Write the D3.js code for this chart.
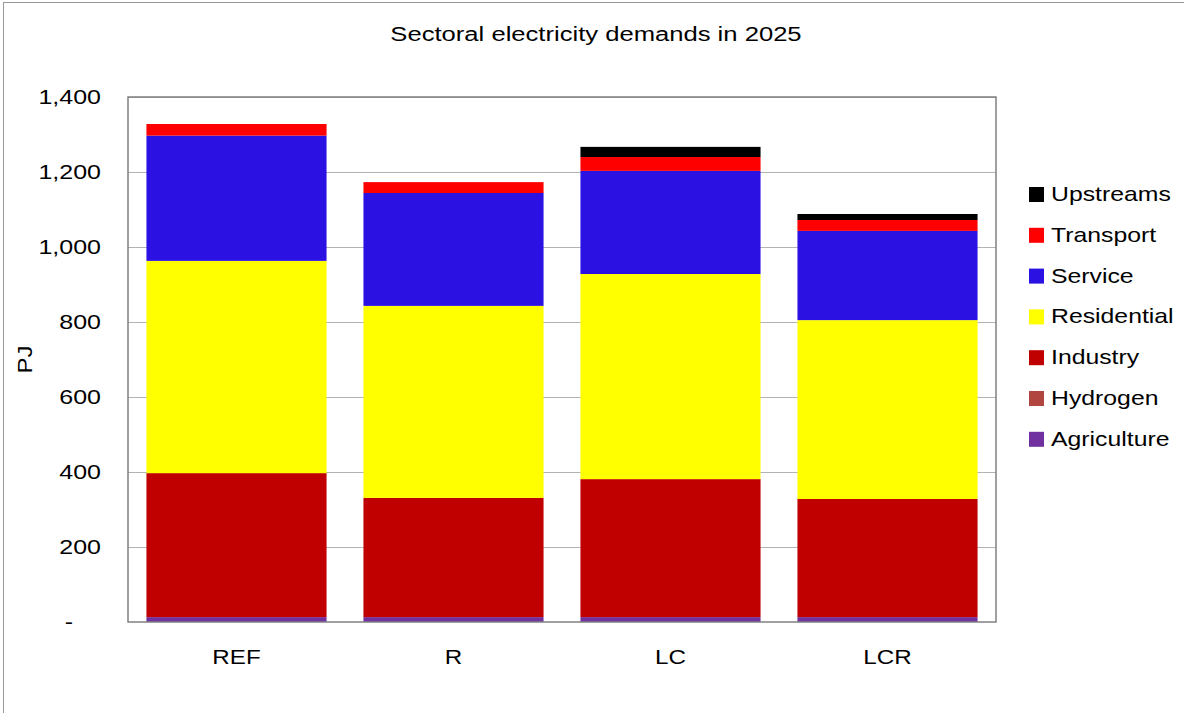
<!DOCTYPE html>
<html>
<head>
<meta charset="utf-8">
<script src="https://cdn.jsdelivr.net/npm/d3@7"></script>
<style>
  body { margin: 0; background: #fff; }
  text { font-family: "Liberation Sans", Arial, sans-serif; fill: #000; }
</style>
</head>
<body>
<div id="chart"></div>
<script>
// Données (PJ)
const scenarios = ["REF", "R", "LC", "LCR"];
const sectors = ["Agriculture", "Hydrogen", "Industry", "Residential", "Service", "Transport", "Upstreams"];
const colors = ["#7030A0", "#B0463F", "#C00000", "#FFFF00", "#2C12E2", "#FF0000", "#000000"];

const agriculture = [13, 13, 13, 13];
const hydrogen    = [0, 0, 0, 0];
const industry    = [384, 318, 368, 315];
const residential = [566, 512, 547, 477];
const service     = [334, 301, 275, 238];
const transport   = [31, 29, 37, 29];
const upstreams   = [0, 0, 27, 16];

const yTicks = [0, 200, 400, 600, 800, 1000, 1200, 1400];

const series = [agriculture, hydrogen, industry, residential, service, transport, upstreams];
const rows = scenarios.map((s, i) => {
  const r = { scenario: s };
  sectors.forEach((k, j) => r[k] = series[j][i]);
  return r;
});

// Dimensions
const width = 1184;
const height = 713;
const margin = { top: 97, right: 188, bottom: 91, left: 128 };

const svg = d3.select("#chart")
  .append("svg")
  .attr("width", width)
  .attr("height", height);

// élargit le texte (rendu plus large que Arial dans l'original)
function stretch(sel, k) {
  sel.each(function() {
    const w = this.getComputedTextLength();
    d3.select(this)
      .attr("textLength", w * k)
      .attr("lengthAdjust", "spacingAndGlyphs");
  });
}

// Cadre extérieur
svg.append("rect")
  .attr("x", 3.5).attr("y", 2.5)
  .attr("width", width + 10).attr("height", height + 10)
  .attr("fill", "none")
  .attr("stroke", "#999")
  .attr("stroke-width", 1);

// Échelles
const x = d3.scaleBand()
  .domain(scenarios)
  .range([margin.left, width - margin.right])
  .paddingInner(0.17)
  .paddingOuter(0.085);

const y = d3.scaleLinear()
  .domain([0, 1400])
  .range([height - margin.bottom, margin.top]);

// Grille
svg.append("g")
  .selectAll("line")
  .data(yTicks.filter(d => d > 0))
  .join("line")
  .attr("x1", margin.left)
  .attr("x2", width - margin.right)
  .attr("y1", d => y(d) + 0.5)
  .attr("y2", d => y(d) + 0.5)
  .attr("stroke", "#b3b3b3")
  .attr("stroke-width", 1);

// Barres empilées
const stacked = d3.stack().keys(sectors)(rows);

svg.append("g")
  .selectAll("g")
  .data(stacked)
  .join("g")
  .attr("fill", (d, i) => colors[i])
  .selectAll("rect")
  .data(d => d)
  .join("rect")
  .attr("x", d => x(d.data.scenario))
  .attr("width", x.bandwidth())
  .attr("y", d => y(d[1]))
  .attr("height", d => y(d[0]) - y(d[1]));

// Cadre du graphique
svg.append("rect")
  .attr("x", margin.left)
  .attr("y", margin.top)
  .attr("width", width - margin.right - margin.left)
  .attr("height", height - margin.bottom - margin.top)
  .attr("fill", "none")
  .attr("stroke", "#808080")
  .attr("stroke-width", 1.5);

// Axe Y
const yAxis = svg.append("g")
  .attr("transform", `translate(${margin.left},0)`)
  .call(d3.axisLeft(y)
    .tickValues(yTicks)
    .tickSize(0)
    .tickPadding(27)
    .tickFormat(d => d === 0 ? "-" : d3.format(",")(d)));
yAxis.select(".domain").remove();
yAxis.selectAll("text")
  .attr("font-size", "21px")
  .style("font-family", "Liberation Sans, Arial, sans-serif")
  .call(stretch, 1.19);
// le zéro "-" est décalé vers la gauche (format comptable)
yAxis.selectAll(".tick")
  .filter(d => d === 0)
  .select("text")
  .attr("x", -55);

// Axe X
const xAxis = svg.append("g")
  .attr("transform", `translate(0,${height - margin.bottom})`)
  .call(d3.axisBottom(x).tickSize(0).tickPadding(27));
xAxis.select(".domain").remove();
xAxis.selectAll("text")
  .attr("font-size", "21px")
  .style("font-family", "Liberation Sans, Arial, sans-serif")
  .call(stretch, 1.15);

// Titre de l'axe Y
svg.append("text")
  .attr("transform", `translate(32,${(margin.top + height - margin.bottom) / 2}) rotate(-90)`)
  .attr("text-anchor", "middle")
  .attr("font-size", "21px")
  .text("PJ")
  .call(stretch, 1.15);

// Titre
svg.append("text")
  .attr("x", 596)
  .attr("y", 41)
  .attr("text-anchor", "middle")
  .attr("font-size", "20px")
  .text("Sectoral electricity demands in 2025")
  .call(stretch, 1.28);

// Légende
const legend = svg.append("g")
  .selectAll("g")
  .data(sectors.slice().reverse())
  .join("g")
  .attr("transform", (d, i) => `translate(1029,${187 + i * 40.8})`);

legend.append("rect")
  .attr("width", 15)
  .attr("height", 15)
  .attr("fill", d => colors[sectors.indexOf(d)]);

legend.append("text")
  .attr("x", 22)
  .attr("y", 14)
  .attr("font-size", "21px")
  .text(d => d)
  .call(stretch, 1.18);
</script>
</body>
</html>
